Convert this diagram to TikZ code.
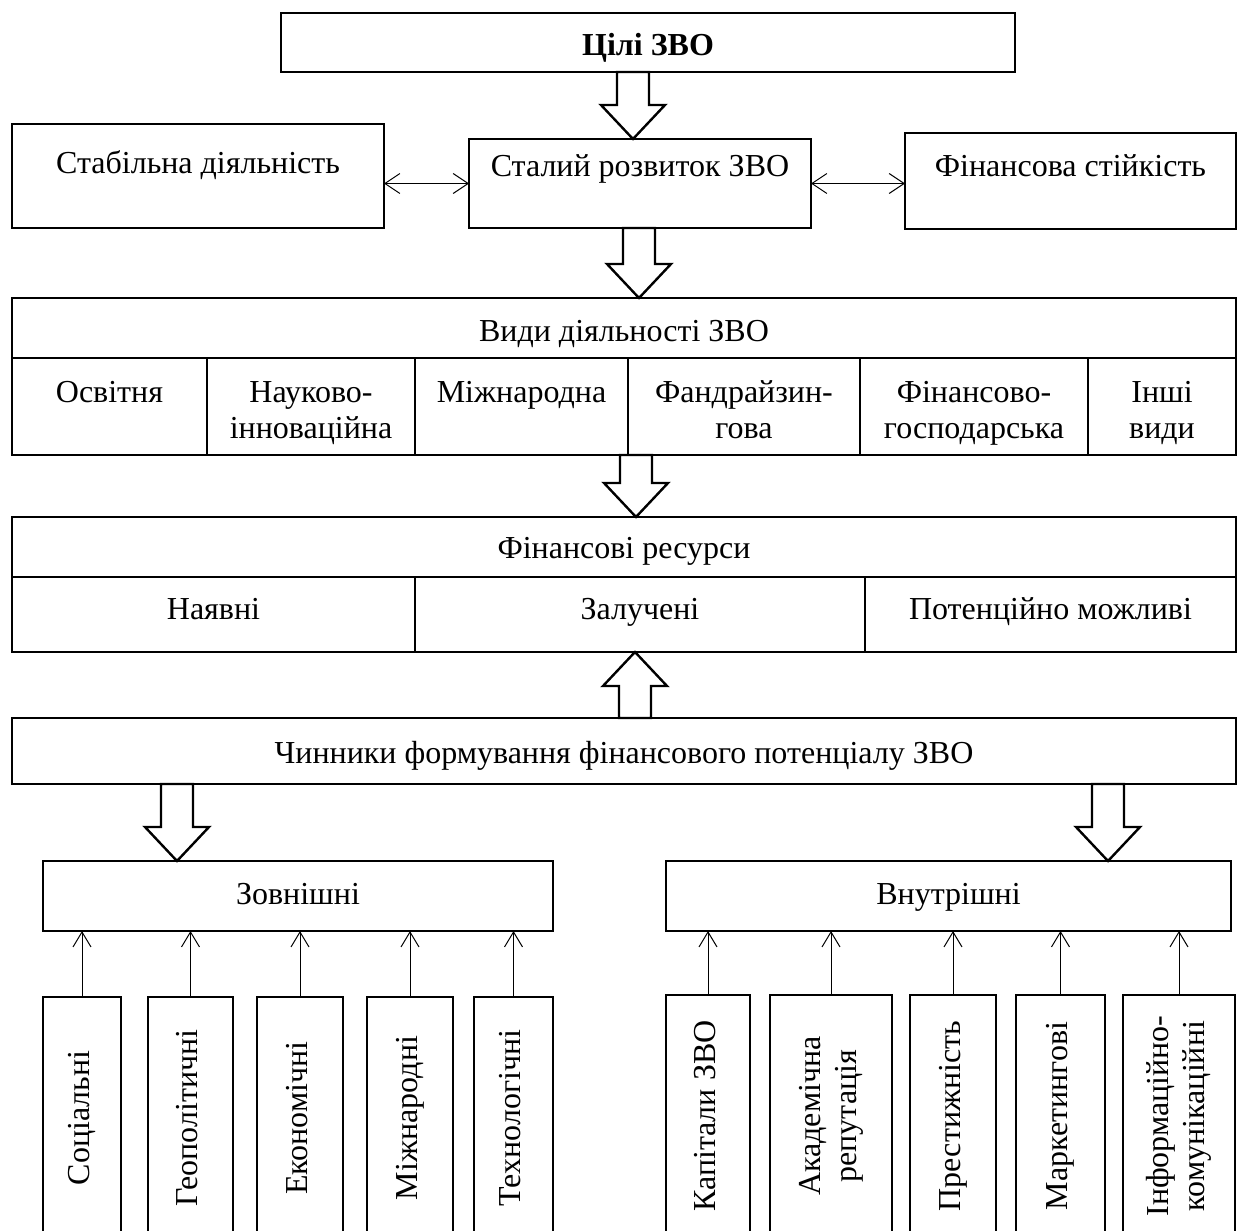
\documentclass[tikz,border=0pt]{standalone}
\usepackage{fontspec}
\setmainfont{Liberation Serif}
\usepackage{graphicx}
\usetikzlibrary{calc}
\usetikzlibrary{arrows.meta}
\usetikzlibrary{positioning}
\tikzstyle{box} = [rectangle, draw, line width=2.4pt, inner sep=0pt, outer sep=0pt, align=center]
\tikzset{tbox/.style 2 args={box, inner ysep=0pt, text height=#1, text depth=#2}}
\tikzstyle{vbox} = [box, minimum height=242pt]
\tikzstyle{thinline} = [line width=1pt]
\tikzstyle{fat} = [draw, line width=2.4pt, fill=white, line join=miter]
\tikzstyle{dblarr} = [thinline, {Straight Barb[length=15pt,width=20pt]}-{Straight Barb[length=15pt,width=20pt]}]
\tikzstyle{uparr} = [thinline, -{Straight Barb[length=15pt,width=18pt]}]
\newcommand{\vtext}[1]{\rotatebox{90}{\begin{tabular}{@{}c@{}}#1\end{tabular}}}
% hollow block arrow from #1 (tail) to #2 (tip)
\newcommand{\blockarrow}[2]{%
  \draw[fat] let \p1=(#1), \p2=(#2), \p3=($(#2)!34pt!(#1)$) in
    ({\x1-16pt},\y1) -- ({\x1-16pt},\y3) -- ({\x1-32pt},\y3) -- (\p2)
    -- ({\x1+32pt},\y3) -- ({\x1+16pt},\y3) -- ({\x1+16pt},\y1) -- cycle;}

\begin{document}
\begin{tikzpicture}[x=1pt,y=-1pt,font=\fontsize{32}{36}\selectfont]
    \useasboundingbox (0,0) rectangle (1237,1231);
    \clip (0,0) rectangle (1237,1231);
    % top part
    \node[tbox={43pt}{16pt}, anchor=north, minimum width=734pt, font=\fontsize{32}{36}\selectfont\bfseries] (goals) at (648,13) {Цілі ЗВО};
    \node[tbox={49pt}{55pt}, anchor=north, minimum width=372pt] (stab) at (198,124) {Стабільна діяльність};
    \node[tbox={37pt}{52pt}, anchor=north, minimum width=342pt] (dev) at (640,139) {Сталий розвиток ЗВО};
    \node[tbox={43pt}{53pt}, anchor=north, minimum width=331pt] (fin) at (1070.5,133) {Фінансова стійкість};
    \draw[dblarr] (stab.east |- dev.west) -- (dev.west);
    \draw[dblarr] (dev.east) -- (fin.west |- dev.east);
    % activities
    \node[tbox={43pt}{17pt}, anchor=north, minimum width=1224pt] (types) at (624,298) {Види діяльності ЗВО};
    \node[tbox={44pt}{53pt}, anchor=north west, minimum width=195pt] (edu) at (types.south west) {Освітня};
    \node[tbox={80pt}{17pt}, anchor=north west, minimum width=208pt] (sci) at (edu.north east) {Науково-\\інноваційна};
    \node[tbox={44pt}{53pt}, anchor=north west, minimum width=213pt] (intact) at (sci.north east) {Міжнародна};
    \node[tbox={80pt}{17pt}, anchor=north west, minimum width=232pt] (fund) at (intact.north east) {Фандрайзин-\\гова};
    \node[tbox={80pt}{17pt}, anchor=north west, minimum width=228pt] (econact) at (fund.north east) {Фінансово-\\господарська};
    \node[tbox={80pt}{17pt}, anchor=north west, minimum width=148pt] (other) at (econact.north east) {Інші\\види};
    % resources
    \node[tbox={41pt}{19pt}, anchor=north, minimum width=1224pt] (res) at (624,517) {Фінансові ресурси};
    \node[tbox={42pt}{33pt}, anchor=north west, minimum width=403pt] (avail) at (res.south west) {Наявні};
    \node[tbox={42pt}{33pt}, anchor=north west, minimum width=450pt] (raised) at (avail.north east) {Залучені};
    \node[tbox={42pt}{33pt}, anchor=north west, minimum width=371pt] (poss) at (raised.north east) {Потенційно можливі};
    % factors
    \node[tbox={45pt}{21pt}, anchor=north, minimum width=1224pt] (factors) at (624,718) {Чинники формування фінансового потенціалу ЗВО};
    \node[tbox={43pt}{27pt}, anchor=north, minimum width=510pt] (ext) at (298,861) {Зовнішні};
    \node[tbox={43pt}{27pt}, anchor=north, minimum width=565pt] (int) at (948.5,861) {Внутрішні};
    % external factors
    \node[vbox, minimum width=78pt] (soc) at (82,1118) {\vtext{Соціальні}};
    \node[vbox, minimum width=85pt] (geo) at (190.5,1118) {\vtext{Геополітичні}};
    \node[vbox, minimum width=86pt] (eco) at (300,1118) {\vtext{Економічні}};
    \node[vbox, minimum width=86pt] (intl) at (410,1118) {\vtext{Міжнародні}};
    \node[vbox, minimum width=79pt] (tech) at (513.5,1118) {\vtext{Технологічні}};
    % internal factors
    \node[vbox, minimum width=84pt] (cap) at (708,1116) {\vtext{Капітали ЗВО}};
    \node[vbox, minimum width=122pt] (acad) at (831,1116) {\vtext{Академічна\\репутація}};
    \node[vbox, minimum width=86pt] (prest) at (953,1116) {\vtext{Престижність}};
    \node[vbox, minimum width=89pt] (mark) at (1060.5,1116) {\vtext{Маркетингові}};
    \node[vbox, minimum width=112pt] (info) at (1179,1116) {\vtext{Інформаційно-\\комунікаційні}};
    \foreach \b in {soc,geo,eco,intl,tech}
        \draw[uparr] (\b.north) -- (\b.north |- ext.south);
    \foreach \b in {cap,acad,prest,mark,info}
        \draw[uparr] (\b.north) -- (\b.north |- int.south);
    % block arrows
    \coordinate (ax1) at (633,0);
    \coordinate (ax2) at (639,0);
    \coordinate (ax3) at (636,0);
    \coordinate (ax4) at (635,0);
    \coordinate (ax5) at (177,0);
    \coordinate (ax6) at (1108,0);
    \blockarrow{goals.south -| ax1}{dev.north -| ax1}
    \blockarrow{dev.south -| ax2}{types.north -| ax2}
    \blockarrow{other.south -| ax3}{res.north -| ax3}
    \blockarrow{factors.north -| ax4}{raised.south -| ax4}
    \blockarrow{factors.south -| ax5}{ext.north -| ax5}
    \blockarrow{factors.south -| ax6}{int.north -| ax6}
\end{tikzpicture}
\end{document}
